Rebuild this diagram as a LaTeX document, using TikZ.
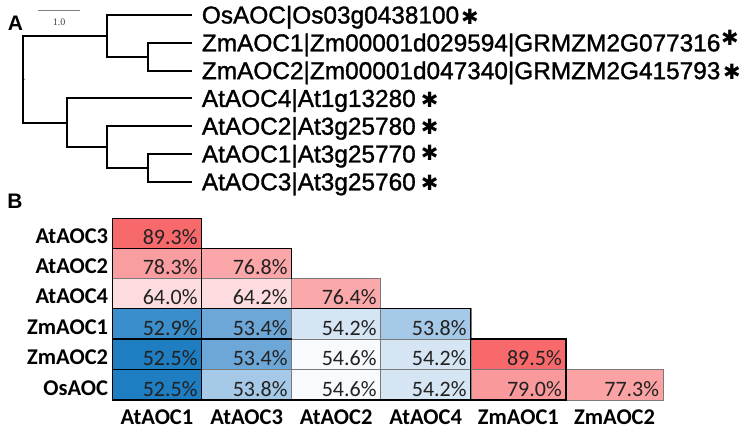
\documentclass[tikz,border=0pt]{standalone}
\usepackage{fontspec}
\setmainfont{Liberation Sans}
\newfontfamily\calib{Carlito}
\newfontfamily\djv{DejaVu Sans}
\newfontfamily\lserif{Liberation Serif}
\newfontfamily\leaffont[FakeBold=1.3]{Liberation Sans}
\definecolor{rA}{HTML}{F8696B}
\definecolor{rB}{HTML}{FA999C}
\definecolor{rC}{HTML}{FA9DA0}
\definecolor{rD}{HTML}{FAA2A4}
\definecolor{rE}{HTML}{FBA6A8}
\definecolor{rF}{HTML}{FBA8AA}
\definecolor{rG}{HTML}{FDDCDF}
\definecolor{bA}{HTML}{1F7DC1}
\definecolor{bB}{HTML}{3A8ECB}
\definecolor{bC}{HTML}{6DA7D7}
\definecolor{bD}{HTML}{A6C9E7}
\definecolor{bE}{HTML}{D5E5F3}
\definecolor{bF}{HTML}{F8FAFD}
\definecolor{gridgray}{HTML}{7A7A7A}
\definecolor{celltext}{HTML}{222222}
\tikzset{
  treeline/.style={line width=2pt, black},
  leaflabel/.style={anchor=base west, inner sep=0pt, font=\leaffont\fontsize{24.4}{26}\selectfont},
  star/.style={anchor=center, inner sep=0pt, font=\djv\fontsize{21}{22}\selectfont},
  panellabel/.style={anchor=base, inner sep=0pt, font=\bfseries\fontsize{21}{22}\selectfont},
  cellbox/.style={draw=gridgray, line width=0.6pt},
  celllabel/.style={anchor=base east, inner sep=0pt, text=celltext, font=\calib\fontsize{22}{24}\selectfont},
  rowlabel/.style={anchor=base east, inner sep=0pt, font=\calib\bfseries\fontsize{22.5}{24}\selectfont},
  collabel/.style={anchor=base, inner sep=0pt, font=\calib\bfseries\fontsize{22.5}{24}\selectfont},
  blackedge/.style={line width=1.3pt, black, line cap=rect},
}
\begin{document}
\begin{tikzpicture}[x=1pt,y=-1pt]
\useasboundingbox (0,0) rectangle (745,433);
% ---------- Panel A ----------
\node[panellabel] (labA) at (15.5,31) {A};
\coordinate (sbL) at (38.3,10.7);
\coordinate (sbR) at (80,10.7);
\draw[line width=0.8pt, gray] (sbL) -- (sbR);
\node[inner sep=0pt, text=black!75, font=\lserif\fontsize{10}{11}\selectfont] (sblab) at (59,22) {1.0};
% tree nodes
\coordinate (root) at (23.3,79.3);
\coordinate (n1) at (106.7,35.8);
\coordinate (n2) at (148.3,56.7);
\coordinate (n3) at (66.7,122.7);
\coordinate (n4) at (106.7,147.0);
\coordinate (n5) at (148.3,167.9);
\coordinate (l1) at (191.7,15.0);
\coordinate (l2) at (191.7,42.8);
\coordinate (l3) at (191.7,70.6);
\coordinate (l4) at (191.7,98.4);
\coordinate (l5) at (191.7,126.2);
\coordinate (l6) at (191.7,154.0);
\coordinate (l7) at (191.7,181.8);
\draw[treeline] (root) |- (n1);
\draw[treeline] (root) |- (n3);
\draw[treeline] (n1) |- (l1);
\draw[treeline] (n1) |- (n2);
\draw[treeline] (n2) |- (l2);
\draw[treeline] (n2) |- (l3);
\draw[treeline] (n3) |- (l4);
\draw[treeline] (n3) |- (n4);
\draw[treeline] (n4) |- (l5);
\draw[treeline] (n4) |- (n5);
\draw[treeline] (n5) |- (l6);
\draw[treeline] (n5) |- (l7);
\fill (root) circle (1.4pt);
% leaf labels
\node[leaflabel] (t1) at (201.7,23.5) {OsAOC|Os03g0438100};
\node[leaflabel] (t2) at (201.7,51.3) {ZmAOC1|Zm00001d029594|GRMZM2G077316};
\node[leaflabel] (t3) at (201.7,79.1) {ZmAOC2|Zm00001d047340|GRMZM2G415793};
\node[leaflabel] (t4) at (201.7,106.9) {AtAOC4|At1g13280};
\node[leaflabel] (t5) at (201.7,134.7) {AtAOC2|At3g25780};
\node[leaflabel] (t6) at (201.7,162.5) {AtAOC1|At3g25770};
\node[leaflabel] (t7) at (201.7,190.3) {AtAOC3|At3g25760};
\node[star] (s1) at (470,16.5) {✱};
\node[star] (s2) at (730,37.5) {✱};
\node[star] (s3) at (732,71.5) {✱};
\node[star] (s4) at (429.7,99.5) {✱};
\node[star] (s5) at (429.7,127) {✱};
\node[star] (s6) at (429.7,152.5) {✱};
\node[star] (s7) at (429.7,183) {✱};
% ---------- Panel B ----------
\node[panellabel] (labB) at (15,208) {B};
% cells: x-left / x-right / y-top / y-bottom / value / colour / name
\foreach \xa/\xb/\ya/\yb/\v/\c/\n in {
  112.3/201.7/218.3/248.3/89.3/rA/c11,
  112.3/201.7/248.3/278.3/78.3/rC/c21,
  201.7/291.7/248.3/278.3/76.8/rE/c22,
  112.3/201.7/278.3/308.3/64.0/rG/c31,
  201.7/291.7/278.3/308.3/64.2/rG/c32,
  291.7/380.7/278.3/308.3/76.4/rF/c33,
  112.3/201.7/308.3/339.0/52.9/bB/c41,
  201.7/291.7/308.3/339.0/53.4/bC/c42,
  291.7/380.7/308.3/339.0/54.2/bE/c43,
  380.7/470.8/308.3/339.0/53.8/bD/c44,
  112.3/201.7/339.0/369.3/52.5/bA/c51,
  201.7/291.7/339.0/369.3/53.4/bC/c52,
  291.7/380.7/339.0/369.3/54.6/bF/c53,
  380.7/470.8/339.0/369.3/54.2/bE/c54,
  470.8/566.0/339.0/369.3/89.5/rA/c55,
  112.3/201.7/369.3/400.0/52.5/bA/c61,
  201.7/291.7/369.3/400.0/53.8/bD/c62,
  291.7/380.7/369.3/400.0/54.6/bF/c63,
  380.7/470.8/369.3/400.0/54.2/bE/c64,
  470.8/566.0/369.3/400.0/79.0/rB/c65,
  566.0/663.3/369.3/400.0/77.3/rD/c66}{
  \filldraw[cellbox, fill=\c] (\xa,\ya) rectangle (\xb,\yb);
  \node[celllabel] (\n) at ({\xb-4},{\yb-3.6}) {\v\%};
}
% thick black borders
\draw[blackedge] (112.3,218.3) -- (201.7,218.3);
\draw[blackedge] (112.3,218.3) -- (112.3,400);
\draw[blackedge] (201.7,218.3) -- (201.7,400);
\draw[blackedge] (112.3,248.3) -- (291.7,248.3);
\draw[blackedge] (291.7,248.3) -- (291.7,278.3);
\draw[blackedge] (112.3,308.3) -- (470.8,308.3);
\draw[blackedge] (470.8,308.3) -- (470.8,400);
\draw[blackedge] (112.3,339) -- (291.7,339);
\draw[blackedge] (112.3,369.3) -- (201.7,369.3);
\draw[blackedge] (112.3,400) -- (566,400);
\draw[blackedge] (470.8,339) -- (566,339);
\draw[blackedge] (566,339) -- (566,400);
% row labels
\node[rowlabel] (rl1) at (108.3,243.3) {AtAOC3};
\node[rowlabel] (rl2) at (108.3,273.3) {AtAOC2};
\node[rowlabel] (rl3) at (108.3,303.3) {AtAOC4};
\node[rowlabel] (rl4) at (108.3,334.0) {ZmAOC1};
\node[rowlabel] (rl5) at (108.3,364.3) {ZmAOC2};
\node[rowlabel] (rl6) at (108.3,395.0) {OsAOC};
% column labels
\node[collabel] (cl1) at (157.0,424) {AtAOC1};
\node[collabel] (cl2) at (246.7,424) {AtAOC3};
\node[collabel] (cl3) at (336.2,424) {AtAOC2};
\node[collabel] (cl4) at (425.7,424) {AtAOC4};
\node[collabel] (cl5) at (518.4,424) {ZmAOC1};
\node[collabel] (cl6) at (614.6,424) {ZmAOC2};
\end{tikzpicture}
\end{document}
